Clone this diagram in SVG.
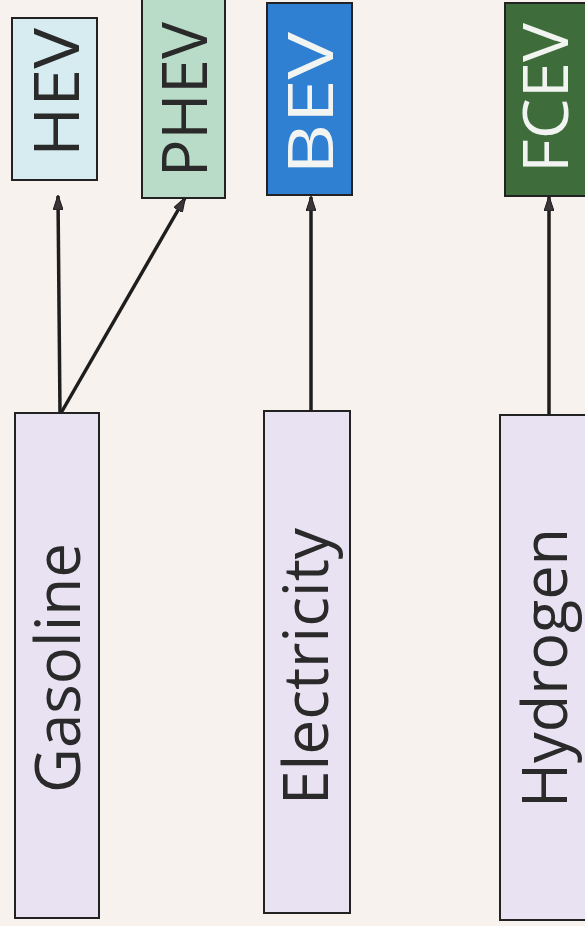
<svg xmlns="http://www.w3.org/2000/svg" width="585" height="926" viewBox="0 0 585 926">
  <style>
    .box { stroke: #222; stroke-width: 2; }
    .lbl { font-family: "Open Sans", "Liberation Sans", sans-serif; font-size: 62px; text-anchor: middle; }
    .dark { fill: #2a2a2a; }
    .light { fill: #f2f4f2; }
    .conn { stroke: #1e1e1e; stroke-width: 3.5; fill: none; marker-end: url(#arrow); }
  </style>
  <defs>
    <marker id="arrow" viewBox="0 0 15 10" refX="14" refY="5" markerWidth="15" markerHeight="10" orient="auto" markerUnits="userSpaceOnUse">
      <path d="M0,0 L15,5 L0,10 Z" fill="#3a3538" stroke="#1e1e1e" stroke-width="1"/>
    </marker>
  </defs>
  <rect width="585" height="926" fill="#f8f2ef"/>

  <g id="connectors">
    <line class="conn" x1="60" y1="413" x2="58" y2="196"/>
    <line class="conn" x1="61" y1="413" x2="185" y2="198"/>
    <line class="conn" x1="311" y1="411" x2="311" y2="197"/>
    <line class="conn" x1="549" y1="415" x2="549" y2="197"/>
  </g>

  <g id="hev">
    <rect class="box" x="12" y="18" width="85" height="162" fill="#d6ecf1"/>
    <text class="lbl dark" transform="translate(79,92.5) rotate(-90)" textLength="129" lengthAdjust="spacingAndGlyphs">HEV</text>
  </g>
  <g id="phev">
    <rect class="box" x="142" y="-2" width="83" height="200" fill="#b8dcc7"/>
    <text class="lbl dark" transform="translate(207,99.5) rotate(-90)" textLength="155" lengthAdjust="spacingAndGlyphs">PHEV</text>
  </g>
  <g id="bev">
    <rect class="box" x="267" y="3" width="85" height="192" fill="#2f80d2"/>
    <text class="lbl light" transform="translate(333,103.5) rotate(-90)" textLength="143" lengthAdjust="spacingAndGlyphs">BEV</text>
  </g>
  <g id="fcev">
    <rect class="box" x="505" y="3" width="81" height="193" fill="#3e6d3b"/>
    <text class="lbl light" transform="translate(568,98) rotate(-90)" textLength="150" lengthAdjust="spacingAndGlyphs">FCEV</text>
  </g>
  <g id="gasoline">
    <rect class="box" x="15" y="413" width="84" height="505" fill="#e8e2f2"/>
    <text class="lbl dark" transform="translate(80,668) rotate(-90)" textLength="250" lengthAdjust="spacingAndGlyphs">Gasoline</text>
  </g>
  <g id="electricity">
    <rect class="box" x="264" y="411" width="86" height="502" fill="#e8e2f2"/>
    <text class="lbl dark" transform="translate(328,666.5) rotate(-90)" textLength="277" lengthAdjust="spacingAndGlyphs">Electricity</text>
  </g>
  <g id="hydrogen">
    <rect class="box" x="500" y="415" width="86" height="505" fill="#e8e2f2"/>
    <text class="lbl dark" transform="translate(567,668) rotate(-90)" textLength="280" lengthAdjust="spacingAndGlyphs">Hydrogen</text>
  </g>
</svg>
